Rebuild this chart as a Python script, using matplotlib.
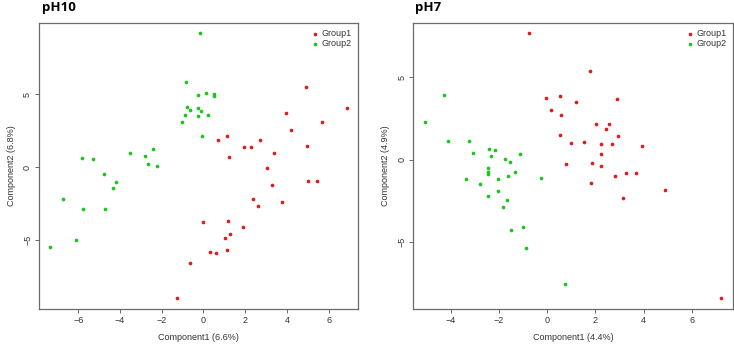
import matplotlib
matplotlib.use('Agg')
import matplotlib.pyplot as plt
import numpy as np

plt.rcParams['font.family'] = 'Liberation Sans'

# pH10 panel
ph10_g1_x = [4.89, 6.87, 3.95, 5.70, 4.20, 0.69, 1.12, 2.70, 1.96, 2.28,
             4.95, 1.21, 3.39, 3.05, 5.02, 5.45, 3.29, 2.36, 3.77, 2.62,
             -0.02, 1.18, 1.87, 1.28, 1.05, 1.12, 0.32, 0.61, -0.65, -1.26]
ph10_g1_y = [5.53, 4.09, 3.70, 3.11, 2.53, 1.89, 2.15, 1.85, 1.37, 1.35,
             1.42, 0.73, 0.98, -0.07, -0.96, -0.94, -1.19, -2.15, -2.37, -2.67,
             -3.79, -3.72, -4.09, -4.57, -4.89, -5.66, -5.80, -5.91, -6.60, -9.00]
ph10_g2_x = [-0.16, -0.86, -0.27, 0.13, 0.50, 0.50, -0.81, -0.65, -0.27, -0.13,
             -0.89, -0.26, 0.21, -1.02, -0.05, -5.83, -5.30, -3.51, -2.78, -2.40,
             -2.67, -2.24, -4.76, -4.17, -4.35, -6.74, -5.78, -4.70, -6.12, -7.33]
ph10_g2_y = [9.20, 5.82, 4.93, 5.09, 5.02, 4.86, 4.11, 3.90, 4.04, 3.84,
             3.56, 3.49, 3.56, 3.11, 2.15, 0.66, 0.53, 0.96, 0.75, 1.23,
             0.21, 0.11, -0.50, -1.00, -1.44, -2.17, -2.88, -2.88, -5.00, -5.50]

# pH7 panel
ph7_g1_x = [-0.77, 1.78, -0.07, 0.51, 2.88, 1.21, 0.17, 0.58, 2.04, 2.58,
            2.44, 0.55, 2.92, 0.97, 1.52, 2.21, 2.70, 3.94, 2.25, 0.76,
            1.85, 2.25, 2.79, 3.28, 3.66, 1.82, 4.90, 3.14, 7.20]
ph7_g1_y = [7.71, 5.42, 3.73, 3.87, 3.67, 3.49, 3.02, 2.70, 2.15, 2.17,
            1.85, 1.50, 1.44, 1.01, 1.05, 0.95, 0.93, 0.83, 0.32, -0.26,
            -0.20, -0.41, -0.99, -0.79, -0.79, -1.40, -1.87, -2.37, -8.46]
ph7_g2_x = [-4.28, -5.05, -4.10, -3.26, -3.09, -2.43, -2.17, -2.34, -1.74, -1.14,
            -1.54, -2.44, -2.44, -2.47, -3.37, -1.34, -1.63, -2.03, -0.26, -2.80,
            -2.03, -2.47, -1.67, -1.83, -0.99, -1.52, -0.87, 0.72]
ph7_g2_y = [3.94, 2.31, 1.12, 1.12, 0.37, 0.67, 0.61, 0.20, 0.04, 0.32,
            -0.14, -0.51, -0.75, -0.91, -1.16, -0.75, -1.03, -1.16, -1.12, -1.52,
            -1.93, -2.23, -2.47, -2.92, -4.14, -4.30, -5.42, -7.61]

red = '#dd1c1c'
green = '#1cc41c'
frame = '#6a6a6a'


def draw(ax, g1x, g1y, g2x, g2y, xlab, ylab, xlim, ylim, xticks):
    ax.scatter(g1x, g1y, s=7, c=red, linewidths=0, label='Group1')
    ax.scatter(g2x, g2y, s=7, c=green, linewidths=0, label='Group2')
    ax.set_xlim(xlim)
    ax.set_ylim(ylim)
    ax.set_xticks(xticks)
    ax.set_yticks([-5, 0, 5])
    ax.set_xticklabels([str(t).replace('-', '\u2212') for t in xticks])
    ax.set_yticklabels(['\u22125', '0', '5'], rotation=90, va='center')
    ax.tick_params(length=3, width=0.7, color=frame, labelsize=6.5,
                   labelcolor='#333333', pad=2)
    for s in ax.spines.values():
        s.set_color(frame)
        s.set_linewidth(0.9)
    ax.set_xlabel(xlab, fontsize=6.5, color='#333333', labelpad=6)
    ax.set_ylabel(ylab, fontsize=6.5, color='#333333', labelpad=5)
    ax.legend(loc='upper right', frameon=False, fontsize=6.5, handletextpad=0.2,
              borderaxespad=0.3, labelspacing=0.15, markerscale=1.0,
              handlelength=1.0, labelcolor='#333333')


fig = plt.figure(figsize=(7.34, 3.46), dpi=100)
ax1 = fig.add_axes([0.0531, 0.1069, 0.4346, 0.8275])
ax2 = fig.add_axes([0.5631, 0.1069, 0.4355, 0.8275])

draw(ax1, ph10_g1_x, ph10_g1_y, ph10_g2_x, ph10_g2_y,
     'Component1 (6.6%)', 'Component2 (6.8%)', (-7.88, 7.40), (-9.73, 9.91),
     [-6, -4, -2, 0, 2, 4, 6])
draw(ax2, ph7_g1_x, ph7_g1_y, ph7_g2_x, ph7_g2_y,
     'Component1 (4.4%)', 'Component2 (4.9%)', (-5.55, 7.70), (-9.11, 8.34),
     [-4, -2, 0, 2, 4, 6])

fig.text(42 / 734, 1 - 1.5 / 346, 'pH10', fontsize=9.5, fontweight='bold',
         family='Open Sans', va='top', ha='left')
fig.text(415 / 734, 1 - 1.5 / 346, 'pH7', fontsize=9.5, fontweight='bold',
         family='Open Sans', va='top', ha='left')

fig.savefig('out.png', dpi=100)
